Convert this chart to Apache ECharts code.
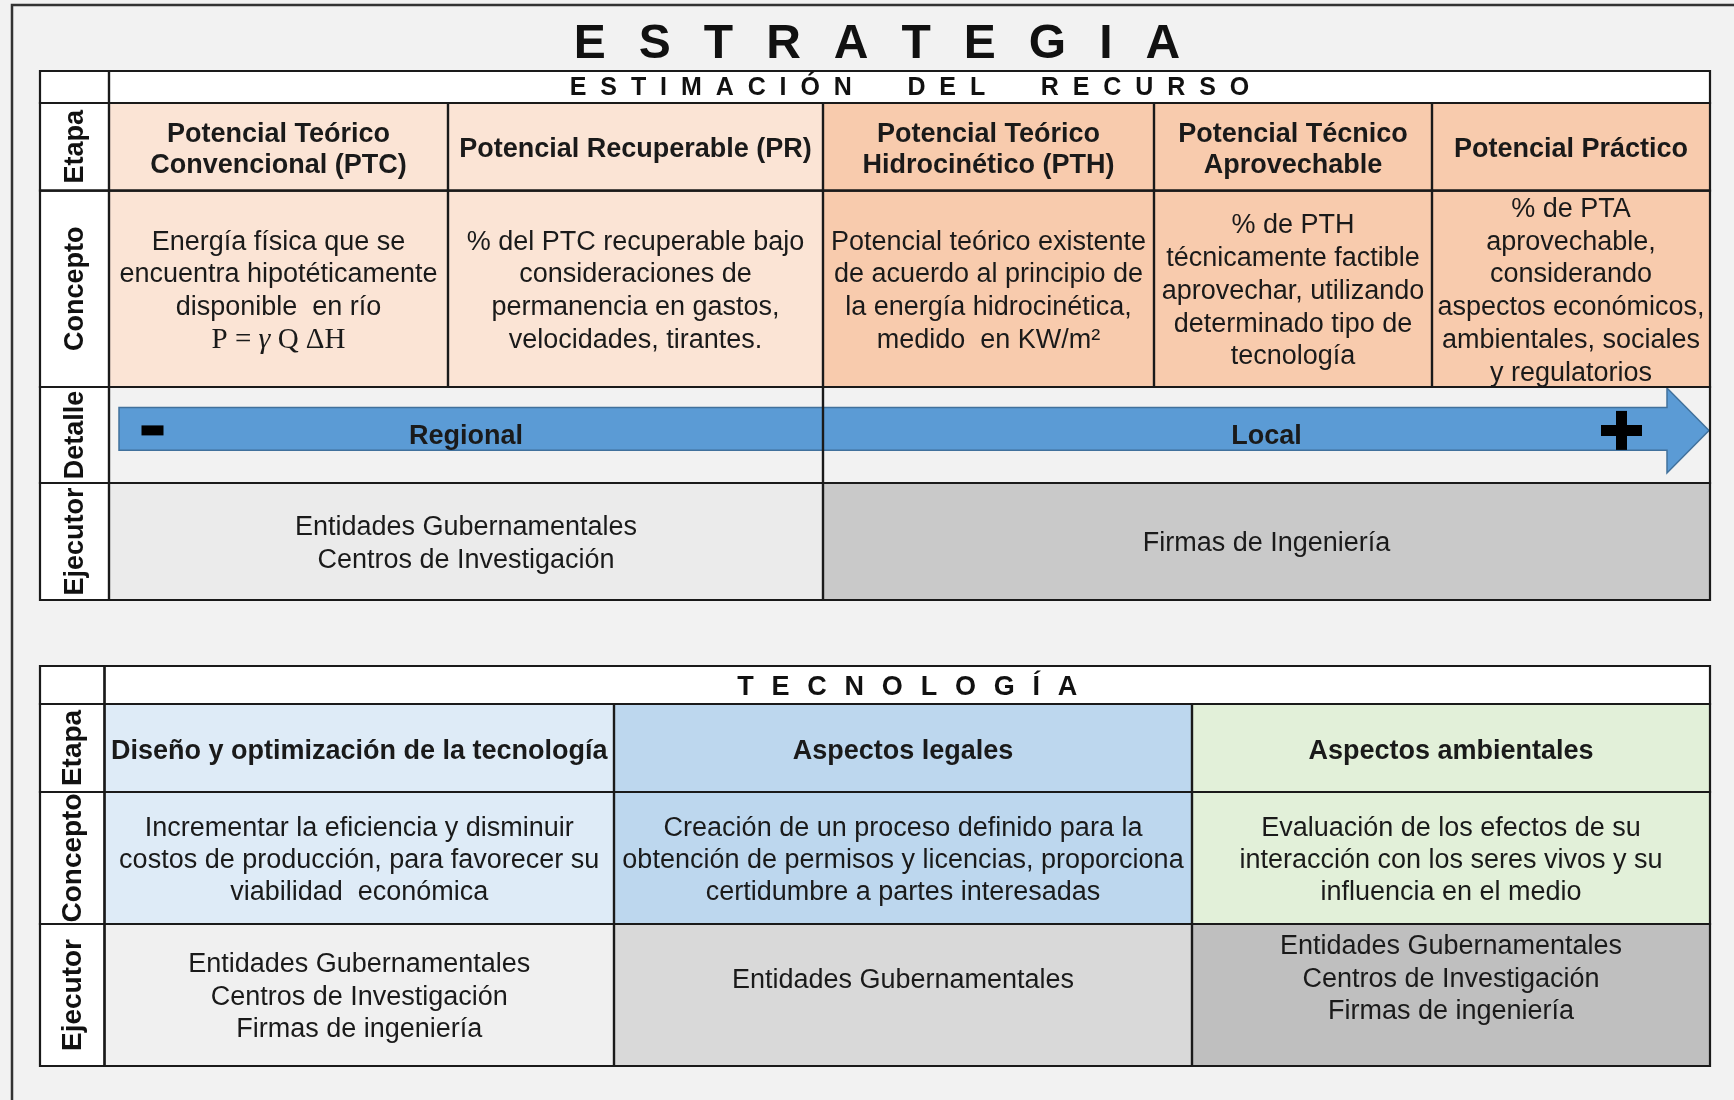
<!DOCTYPE html>
<html><head><meta charset="utf-8">
<script src="https://cdn.jsdelivr.net/npm/echarts@6/dist/echarts.min.js"></script>
<style>html,body{margin:0;padding:0;background:#f2f2f2}#c{width:1734px;height:1100px}</style>
</head><body><div id="c"></div>
<script>
// ---------------- DATA (texts) ----------------
const mainTitle = 'ESTRATEGIA';
const upperTitle = 'ESTIMACIÓN  DEL  RECURSO';
const lowerTitle = 'TECNOLOGÍA';
const upperRowLabels = ['Etapa', 'Concepto', 'Detalle', 'Ejecutor'];
const lowerRowLabels = ['Etapa', 'Concepto', 'Ejecutor'];
const upperStages = [
  ['Potencial Teórico', 'Convencional (PTC)'],
  ['Potencial Recuperable (PR)'],
  ['Potencial Teórico', 'Hidrocinético (PTH)'],
  ['Potencial Técnico', 'Aprovechable'],
  ['Potencial Práctico']
];
const upperFormula = 'P = γ Q ΔH';
const upperConcepts = [
  ['Energía física que se', 'encuentra hipotéticamente', 'disponible  en río', upperFormula],
  ['% del PTC recuperable bajo', 'consideraciones de', 'permanencia en gastos,', 'velocidades, tirantes.'],
  ['Potencial teórico existente', 'de acuerdo al principio de', 'la energía hidrocinética,', 'medido  en KW/m²'],
  ['% de PTH', 'técnicamente factible', 'aprovechar, utilizando', 'determinado tipo de', 'tecnología'],
  ['% de PTA', 'aprovechable,', 'considerando', 'aspectos económicos,', 'ambientales, sociales', 'y regulatorios']
];
const detailScale = ['Regional', 'Local'];
const upperExecutors = [
  ['Entidades Gubernamentales', 'Centros de Investigación'],
  ['Firmas de Ingeniería']
];
const lowerStages = [
  ['Diseño y optimización de la tecnología'],
  ['Aspectos legales'],
  ['Aspectos ambientales']
];
const lowerConcepts = [
  ['Incrementar la eficiencia y disminuir', 'costos de producción, para favorecer su', 'viabilidad  económica'],
  ['Creación de un proceso definido para la', 'obtención de permisos y licencias, proporciona', 'certidumbre a partes interesadas'],
  ['Evaluación de los efectos de su', 'interacción con los seres vivos y su', 'influencia en el medio']
];
const lowerExecutors = [
  ['Entidades Gubernamentales', 'Centros de Investigación', 'Firmas de ingeniería'],
  ['Entidades Gubernamentales'],
  ['Entidades Gubernamentales', 'Centros de Investigación', 'Firmas de ingeniería']
];

// ---------------- LAYOUT (edges in axis units) ----------------
const UX = [40, 109, 448, 823, 1154, 1432, 1710];
const UY = [71, 103, 190.7, 387, 483, 600];
const LX = [40, 104.5, 614, 1192, 1710];
const LY = [666, 704, 792, 924, 1066];
const UPPER_HALVES = [[1, 3], [3, 6]];
const LOWER_EXEC_SHIFT = [0, -17, -18];
const TEXT_SHIFT = 2.5;

// ---------------- STYLES ----------------
const FAM = "'Liberation Sans', Arial, Helvetica, sans-serif";
const SERIF = "'Liberation Serif', 'Times New Roman', serif";
const INK = '#1a1a1a';
const UPPER_STAGE_FILL = ['#fbe4d5', '#fbe4d5', '#f8cbad', '#f8cbad', '#f8cbad'];
const UPPER_EXEC_FILL = ['#ebebeb', '#c9c9c9'];
const LOWER_FILL = ['#deebf7', '#bdd7ee', '#e2f0d9'];
const LOWER_EXEC_FILL = ['#f0f0f0', '#d9d9d9', '#bfbfbf'];

// ---------------- build cells ----------------
const cells = [];
function add(c) { cells.push(c); }
add({x0: UX[0], y0: 19, x1: UX[6], y1: 70, kind: 'spaced', text: mainTitle, size: 48, extra: 33, noBorder: true, dx: 2});
add({x0: UX[0], y0: UY[0], x1: UX[1], y1: UY[1], fill: '#ffffff', kind: 'blank'});
add({x0: UX[1], y0: UY[0], x1: UX[6], y1: UY[1], fill: '#ffffff', kind: 'spaced', text: upperTitle, size: 25, extra: 13.9, dy: 1});
upperRowLabels.forEach((t, r) => add({x0: UX[0], y0: UY[r + 1], x1: UX[1], y1: UY[r + 2], fill: '#ffffff', kind: 'label', lines: [t], size: 27}));
upperStages.forEach((l, i) => add({x0: UX[i + 1], y0: UY[1], x1: UX[i + 2], y1: UY[2], fill: UPPER_STAGE_FILL[i], kind: 'text', bold: true, lines: l, size: 27, lh: 31.3, dy: TEXT_SHIFT + 0.5}));
upperConcepts.forEach((l, i) => add({x0: UX[i + 1], y0: UY[2], x1: UX[i + 2], y1: UY[3], fill: UPPER_STAGE_FILL[i], kind: 'text', lines: l, size: 27, lh: 32.8, dy: TEXT_SHIFT}));
detailScale.forEach((t, j) => add({x0: UX[UPPER_HALVES[j][0]], y0: UY[3], x1: UX[UPPER_HALVES[j][1]], y1: UY[4], fill: null, kind: 'text', bold: true, lines: [t], size: 27, lh: 30, dy: 1.5}));
upperExecutors.forEach((l, j) => add({x0: UX[UPPER_HALVES[j][0]], y0: UY[4], x1: UX[UPPER_HALVES[j][1]], y1: UY[5], fill: UPPER_EXEC_FILL[j], kind: 'text', lines: l, size: 27, lh: 33, dy: TEXT_SHIFT}));

add({x0: LX[0], y0: LY[0], x1: LX[1], y1: LY[1], fill: '#ffffff', kind: 'blank'});
add({x0: LX[1], y0: LY[0], x1: LX[4], y1: LY[1], fill: '#ffffff', kind: 'spaced', text: lowerTitle, size: 27, extra: 17.8, dy: 3});
lowerRowLabels.forEach((t, r) => add({x0: LX[0], y0: LY[r + 1], x1: LX[1], y1: LY[r + 2], fill: '#ffffff', kind: 'label', lines: [t], size: 28}));
lowerStages.forEach((l, i) => add({x0: LX[i + 1], y0: LY[1], x1: LX[i + 2], y1: LY[2], fill: LOWER_FILL[i], kind: 'text', bold: true, lines: l, size: 27, lh: 31, dy: TEXT_SHIFT + 1}));
lowerConcepts.forEach((l, i) => add({x0: LX[i + 1], y0: LY[2], x1: LX[i + 2], y1: LY[3], fill: LOWER_FILL[i], kind: 'text', lines: l, size: 27, lh: 32.3, dy: TEXT_SHIFT}));
lowerExecutors.forEach((l, i) => add({x0: LX[i + 1], y0: LY[3], x1: LX[i + 2], y1: LY[4], fill: LOWER_EXEC_FILL[i], kind: 'text', lines: l, size: 27, lh: 32.5, dy: LOWER_EXEC_SHIFT[i] + TEXT_SHIFT}));

const cellData = cells.map(c => [c.x0, c.y0, c.x1, c.y1]);

// ---------------- helpers ----------------
const mctx = document.createElement('canvas').getContext('2d');
function rectOf(api) {
  const p0 = api.coord([api.value(0), api.value(1)]);
  const p1 = api.coord([api.value(2), api.value(3)]);
  return {x: Math.min(p0[0], p1[0]), y: Math.min(p0[1], p1[1]),
          width: Math.abs(p1[0] - p0[0]), height: Math.abs(p1[1] - p0[1])};
}
function spacedLetters(str, cx, cy, size, extra) {
  mctx.font = 'bold ' + size + 'px ' + FAM;
  const chars = Array.from(str);
  const ws = chars.map(ch => mctx.measureText(ch).width);
  const total = ws.reduce((a, b) => a + b, 0) + extra * (chars.length - 1);
  let x = cx - total / 2;
  const out = [];
  chars.forEach((ch, i) => {
    if (ch !== ' ') out.push({type: 'text', style: {text: ch, x: x, y: cy, fill: '#111111', fontFamily: FAM,
      fontSize: size, fontWeight: 'bold', align: 'left', verticalAlign: 'middle'}});
    x += ws[i] + extra;
  });
  return out;
}

const axisOff = {show: false};
const option = {
  backgroundColor: '#f2f2f2',
  animation: false,
  grid: {left: 0, right: 0, top: 0, bottom: 0},
  xAxis: {type: 'value', min: 0, max: 1734, show: false, splitLine: axisOff},
  yAxis: {type: 'value', min: 0, max: 1100, inverse: true, show: false, splitLine: axisOff},
  series: [
    { // frame
      type: 'custom', z: 1, silent: true,
      data: [[12, 5, 1734, 1100]], encode: {x: [0, 2], y: [1, 3]},
      renderItem: (params, api) => {
        const r = rectOf(api);
        return {type: 'polyline', shape: {points: [[r.x, r.y + r.height], [r.x, r.y], [r.x + r.width, r.y]]},
          style: {stroke: '#333333', lineWidth: 2.5, fill: null}};
      }
    },
    { // fills
      type: 'custom', z: 2, silent: true,
      data: cellData, encode: {x: [0, 2], y: [1, 3]},
      renderItem: (params, api) => {
        const c = cells[params.dataIndex];
        if (!c.fill) return {type: 'group', children: []};
        return {type: 'rect', shape: rectOf(api), style: {fill: c.fill}};
      }
    },
    { // arrow in the "Detalle" row
      type: 'custom', z: 3, silent: true,
      data: [[UX[1], UY[3], UX[6], UY[4]]], encode: {x: [0, 2], y: [1, 3]},
      renderItem: (params, api) => {
        const r = rectOf(api);
        const h = r.height;
        const left = r.x + 10, tip = r.x + r.width - 1, headStart = tip - 42;
        const bTop = r.y + 0.213 * h, bBot = r.y + 0.66 * h;
        const hTop = r.y + 0.01 * h, hBot = r.y + 0.896 * h, mid = (hTop + hBot) / 2;
        const cy = (bTop + bBot) / 2 + 1.5;
        return {type: 'group', children: [
          {type: 'polygon', shape: {points: [[left, bTop], [headStart, bTop], [headStart, hTop], [tip, mid],
            [headStart, hBot], [headStart, bBot], [left, bBot]]},
           style: {fill: '#5b9bd5', stroke: '#41719c', lineWidth: 1.5}},
          {type: 'rect', shape: {x: left + 22.5, y: cy - 5, width: 22, height: 10}, style: {fill: '#000000'}},
          {type: 'rect', shape: {x: headStart - 66, y: cy - 5.5, width: 41, height: 11}, style: {fill: '#000000'}},
          {type: 'rect', shape: {x: headStart - 51, y: cy - 19.5, width: 11, height: 39}, style: {fill: '#000000'}}
        ]};
      }
    },
    { // borders
      type: 'custom', z: 4, silent: true,
      data: cellData, encode: {x: [0, 2], y: [1, 3]},
      renderItem: (params, api) => {
        const c = cells[params.dataIndex];
        if (c.noBorder) return {type: 'group', children: []};
        return {type: 'rect', shape: rectOf(api), style: {fill: null, stroke: INK, lineWidth: 2.2}};
      }
    },
    { // texts
      type: 'custom', z: 5, silent: true,
      data: cellData, encode: {x: [0, 2], y: [1, 3]},
      renderItem: (params, api) => {
        const c = cells[params.dataIndex];
        const r = rectOf(api);
        const cx = r.x + r.width / 2 + (c.dx || 0), cy = r.y + r.height / 2 + (c.dy || 0);
        if (c.kind === 'blank') return {type: 'group', children: []};
        if (c.kind === 'spaced') return {type: 'group', children: spacedLetters(c.text, cx, cy, c.size, c.extra)};
        if (c.kind === 'label') {
          return {type: 'text', x: cx + 1, y: cy, rotation: Math.PI / 2,
            style: {text: c.lines[0], x: 0, y: 0, fill: '#111111', fontFamily: FAM, fontSize: c.size,
              fontWeight: 'bold', align: 'center', verticalAlign: 'middle'}};
        }
        const n = c.lines.length;
        const children = c.lines.map((t, i) => {
          const y = cy + (i - (n - 1) / 2) * c.lh;
          if (t === upperFormula) {
            return {type: 'text', style: {text: '{a|P = }{g|γ}{a| Q ΔH}', x: cx, y: y, align: 'center', verticalAlign: 'middle',
              rich: {a: {fontFamily: SERIF, fontSize: 29, fill: INK},
                     g: {fontFamily: SERIF, fontSize: 30, fontStyle: 'italic', fill: INK}}}};
          }
          return {type: 'text', style: {text: t, x: cx, y: y, fill: INK, fontFamily: FAM, fontSize: c.size,
            fontWeight: c.bold ? 'bold' : 'normal', align: 'center', verticalAlign: 'middle'}};
        });
        return {type: 'group', children: children};
      }
    }
  ]
};
const chart = echarts.init(document.getElementById('c'), null, {renderer: 'canvas'});
chart.setOption(option);
</script>
</body></html>
